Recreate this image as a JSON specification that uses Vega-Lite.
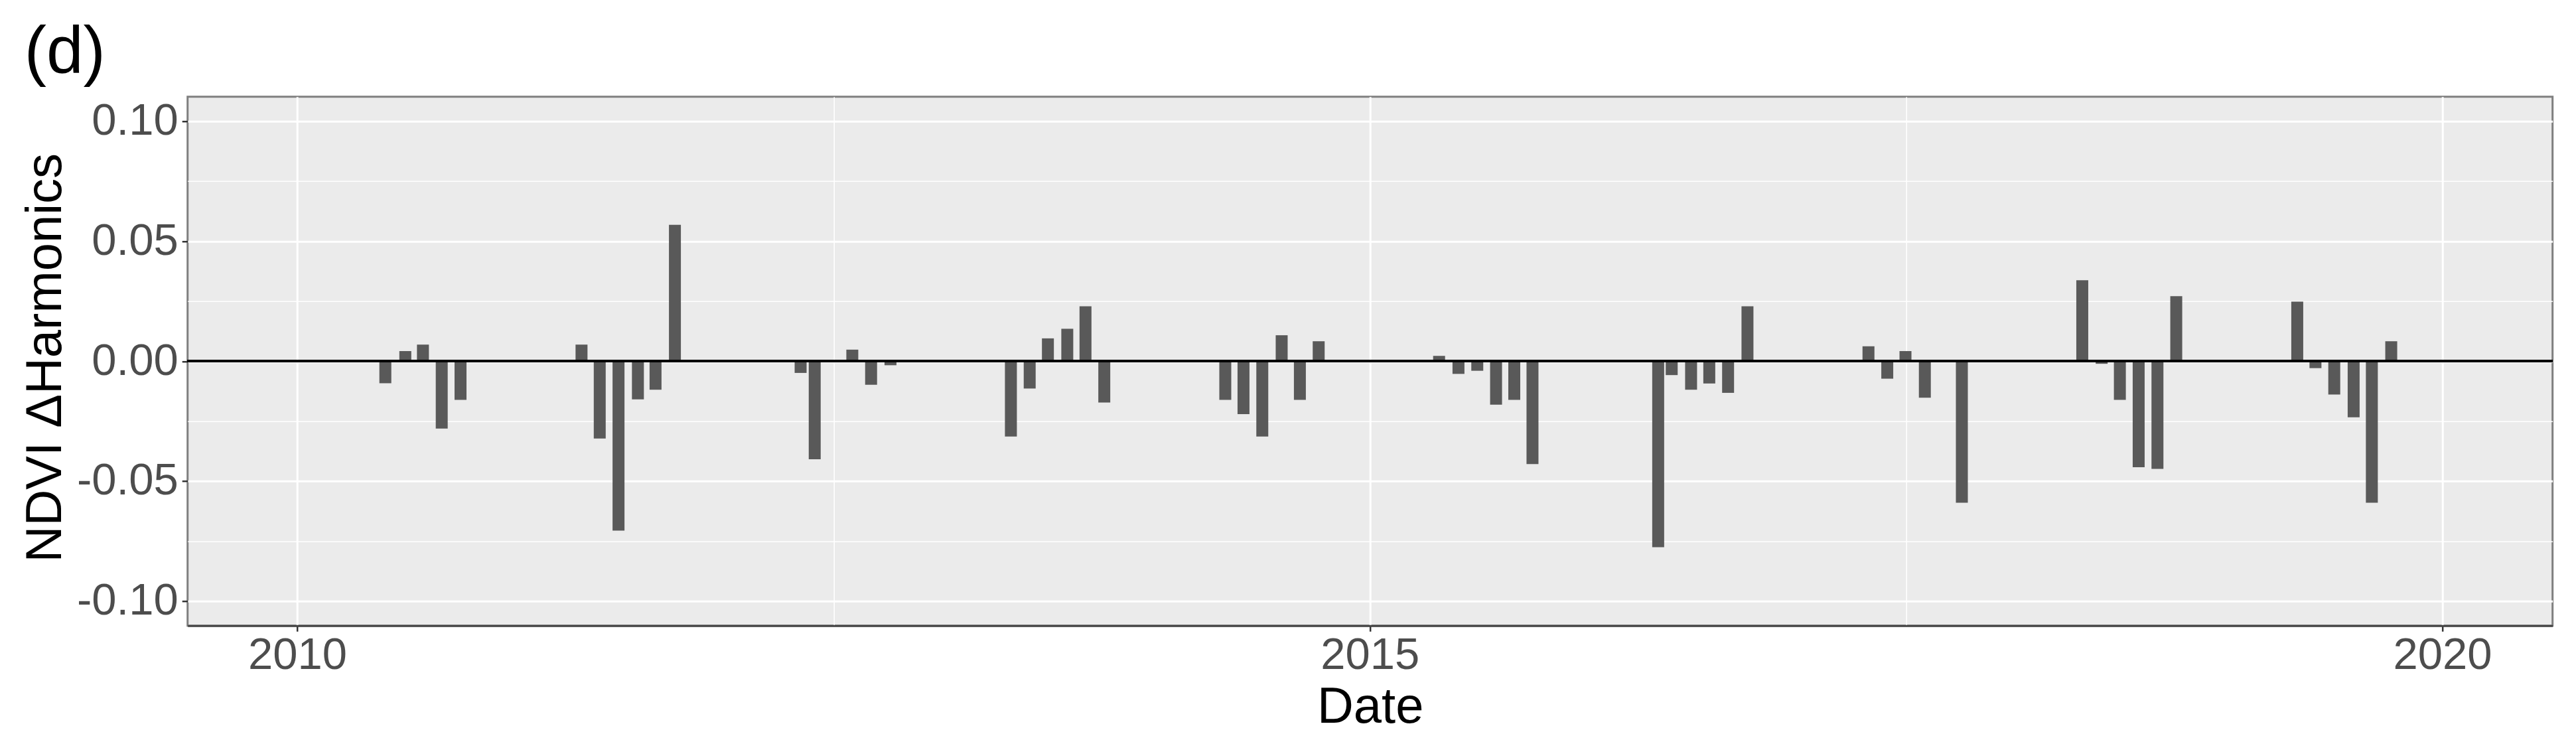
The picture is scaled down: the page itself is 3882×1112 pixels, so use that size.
{
  "$schema": "https://vega.github.io/schema/vega-lite/v6.json",
  "width": 3564,
  "height": 797,
  "autosize": "none",
  "padding": {"left": 282.7, "top": 145.7, "right": 35, "bottom": 169},
  "background": "white",
  "title": {"text": "(d)", "anchor": "start", "frame": "group", "fontSize": 100, "font": "Liberation Sans", "fontWeight": "normal", "color": "#000000", "baseline": "alphabetic", "offset": 36, "dx": -246, "dy": 100},
  "data": {"values": [
    {"date": "2010-05-31", "value": -0.0092},
    {"date": "2010-07-04", "value": 0.0042},
    {"date": "2010-08-03", "value": 0.0069},
    {"date": "2010-09-04", "value": -0.0281},
    {"date": "2010-10-06", "value": -0.0161},
    {"date": "2011-04-30", "value": 0.0069},
    {"date": "2011-05-31", "value": -0.0322},
    {"date": "2011-07-02", "value": -0.0706},
    {"date": "2011-08-04", "value": -0.0159},
    {"date": "2011-09-03", "value": -0.0119},
    {"date": "2011-10-06", "value": 0.0568},
    {"date": "2012-05-07", "value": -0.0049},
    {"date": "2012-05-31", "value": -0.0409},
    {"date": "2012-08-03", "value": 0.0048},
    {"date": "2012-09-04", "value": -0.0098},
    {"date": "2012-10-07", "value": -0.0017},
    {"date": "2013-04-30", "value": -0.0314},
    {"date": "2013-06-01", "value": -0.0114},
    {"date": "2013-07-02", "value": 0.0095},
    {"date": "2013-08-04", "value": 0.0135},
    {"date": "2013-09-04", "value": 0.0229},
    {"date": "2013-10-06", "value": -0.0172},
    {"date": "2014-04-30", "value": -0.0161},
    {"date": "2014-05-31", "value": -0.0221},
    {"date": "2014-07-02", "value": -0.0314},
    {"date": "2014-08-04", "value": 0.0108},
    {"date": "2014-09-04", "value": -0.0161},
    {"date": "2014-10-06", "value": 0.0083},
    {"date": "2015-04-29", "value": 0.0022},
    {"date": "2015-06-01", "value": -0.0053},
    {"date": "2015-07-03", "value": -0.0040},
    {"date": "2015-08-04", "value": -0.0181},
    {"date": "2015-09-04", "value": -0.0161},
    {"date": "2015-10-05", "value": -0.0429},
    {"date": "2016-05-06", "value": -0.0775},
    {"date": "2016-05-29", "value": -0.0058},
    {"date": "2016-07-01", "value": -0.0119},
    {"date": "2016-08-01", "value": -0.0093},
    {"date": "2016-09-02", "value": -0.0132},
    {"date": "2016-10-05", "value": 0.0229},
    {"date": "2017-04-29", "value": 0.0062},
    {"date": "2017-05-31", "value": -0.0073},
    {"date": "2017-07-01", "value": 0.0042},
    {"date": "2017-08-03", "value": -0.0152},
    {"date": "2017-10-05", "value": -0.0590},
    {"date": "2018-04-28", "value": 0.0337},
    {"date": "2018-05-31", "value": -0.0011},
    {"date": "2018-07-01", "value": -0.0161},
    {"date": "2018-08-02", "value": -0.0442},
    {"date": "2018-09-03", "value": -0.0449},
    {"date": "2018-10-05", "value": 0.0271},
    {"date": "2019-04-29", "value": 0.0248},
    {"date": "2019-05-30", "value": -0.0029},
    {"date": "2019-07-01", "value": -0.0139},
    {"date": "2019-08-03", "value": -0.0234},
    {"date": "2019-09-03", "value": -0.0590},
    {"date": "2019-10-06", "value": 0.0083}
  ]},
  "layer": [
    {
      "mark": {"type": "bar", "width": 18, "color": "#595959"},
      "encoding": {
        "x": {
          "field": "date", "type": "temporal",
          "scale": {"type": "utc", "domain": [{"year": 2009, "month": 7, "date": 4, "utc": true}, {"year": 2020, "month": 7, "date": 1, "utc": true}], "nice": false},
          "axis": {
            "title": "Date",
            "values": [
              {"year": 2010, "month": 1, "date": 1, "utc": true},
              {"year": 2012, "month": 7, "date": 2, "hours": 12, "utc": true},
              {"year": 2015, "month": 1, "date": 1, "utc": true},
              {"year": 2017, "month": 7, "date": 2, "hours": 12, "utc": true},
              {"year": 2020, "month": 1, "date": 1, "utc": true}
            ],
            "labelExpr": "utcmonth(datum.value) === 0 ? utcFormat(datum.value, '%Y') : ''",
            "gridWidth": {"condition": {"test": "utcmonth(datum.value) !== 0", "value": 1.6}, "value": 3},
            "tickOpacity": {"condition": {"test": "utcmonth(datum.value) !== 0", "value": 0}, "value": 1},
            "labelBaseline": "alphabetic",
            "labelPadding": 56.7,
            "labelOverlap": false,
            "labelFlush": false,
            "domain": true,
            "domainColor": "#444444",
            "domainWidth": 3,
            "titleBaseline": "alphabetic",
            "titleY": 146,
            "titleX": 1782
          }
        },
        "y": {
          "field": "value", "type": "quantitative", "stack": null,
          "scale": {"domain": [-0.1102, 0.1102], "nice": false, "zero": false},
          "axis": {
            "title": "NDVI \u0394Harmonics",
            "values": [-0.1, -0.075, -0.05, -0.025, 0, 0.025, 0.05, 0.075, 0.1],
            "labelExpr": "abs(round(datum.value * 1000)) % 50 !== 0 ? '' : (datum.value < -0.0001 ? '-' + format(abs(datum.value), '.2f') : format(abs(datum.value), '.2f'))",
            "gridWidth": {"condition": {"test": "abs(round(datum.value * 1000)) % 50 !== 0", "value": 1.6}, "value": 3},
            "tickOpacity": {"condition": {"test": "abs(round(datum.value * 1000)) % 50 !== 0", "value": 0}, "value": 1},
            "labelBaseline": "middle",
            "labelPadding": 6,
            "labelOverlap": false,
            "labelFlush": false,
            "domain": false,
            "titleBaseline": "alphabetic",
            "titleAngle": -90,
            "titleX": -191,
            "titleY": 393
          }
        }
      }
    },
    {
      "mark": {"type": "rule", "color": "#000000", "strokeWidth": 2.8},
      "encoding": {"y": {"datum": 0}}
    }
  ],
  "config": {
    "font": "Liberation Sans",
    "view": {"fill": "#EBEBEB", "stroke": "#7F7F7F", "strokeWidth": 3},
    "axis": {
      "grid": true,
      "gridColor": "#FFFFFF",
      "gridOpacity": 1,
      "tickColor": "#333333",
      "tickWidth": 2.5,
      "tickSize": 8.5,
      "labelFont": "Liberation Sans",
      "labelFontSize": 67,
      "labelColor": "#4D4D4D",
      "titleFont": "Liberation Sans",
      "titleFontSize": 76,
      "titleFontWeight": "normal",
      "titleColor": "#000000"
    }
  }
}
